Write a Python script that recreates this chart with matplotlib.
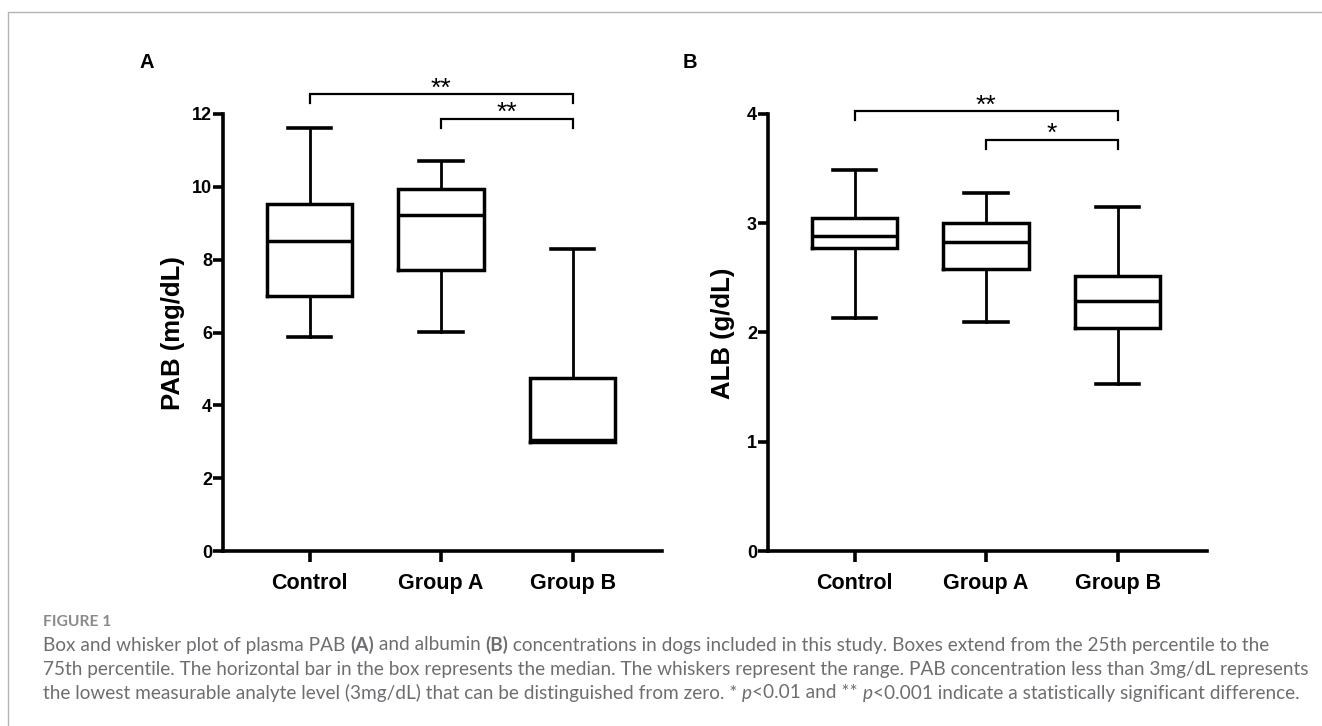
import matplotlib
matplotlib.use("Agg")
import matplotlib.pyplot as plt
from matplotlib.lines import Line2D
from matplotlib.transforms import IdentityTransform

groups = ["Control", "Group A", "Group B"]

# panel A: PAB (mg/dL)
pab_min = [5.88, 6.02, 3.00]
pab_q1 = [7.01, 7.72, 3.00]
pab_med = [8.52, 9.23, 3.05]
pab_q3 = [9.53, 9.94, 4.75]
pab_max = [11.62, 10.71, 8.30]

# panel B: ALB (g/dL)
alb_min = [2.13, 2.10, 1.53]
alb_q1 = [2.77, 2.58, 2.04]
alb_med = [2.88, 2.83, 2.29]
alb_q3 = [3.05, 3.00, 2.52]
alb_max = [3.49, 3.28, 3.15]

pab_sig = [(0, 2, "**"), (1, 2, "**")]
alb_sig = [(0, 2, "**"), (1, 2, "*")]

W, H = 1322, 726
fig = plt.figure(figsize=(W / 100, H / 100), dpi=100)
FONT = "Liberation Sans"


def make_stats(lo, q1, med, q3, hi):
    return [dict(whislo=a, q1=b, med=c, q3=d, whishi=e, fliers=[])
            for a, b, c, d, e in zip(lo, q1, med, q3, hi)]


def draw_panel(left, stats, ymax, yticks, ylabel, label_x, sig, br_y, letter, letter_x):
    ax = fig.add_axes([left / W, 1 - 551 / H, 439 / W, (551 - 114) / H])
    ax.bxp(stats, positions=range(3), widths=0.65, capwidths=0.33,
           showfliers=False, manage_ticks=False,
           boxprops=dict(color="k", lw=2.5, solid_joinstyle="miter"),
           medianprops=dict(color="k", lw=2.5),
           whiskerprops=dict(color="k", lw=2.0),
           capprops=dict(color="k", lw=2.6))
    ax.set_xlim(-0.66, 2.68)
    ax.set_ylim(0, ymax)
    for s in ["top", "right"]:
        ax.spines[s].set_visible(False)
    for s in ["left", "bottom"]:
        ax.spines[s].set_linewidth(2.6)
    ax.set_xticks(range(3))
    ax.set_xticklabels(groups, fontsize=15.5, fontweight="bold", family=FONT)
    ax.set_yticks(yticks)
    ax.set_yticklabels([str(t) for t in yticks], fontsize=13, fontweight="bold", family=FONT)
    ax.tick_params(axis="x", length=8, width=2.6, pad=8)
    ax.tick_params(axis="y", length=7, width=2.6, pad=1)
    fig.text(label_x / W, 1 - 333 / H, ylabel, rotation=90, ha="center", va="center",
             fontsize=18.5, fontweight="bold", family=FONT)
    fig.text(letter_x / W, 1 - 62 / H, letter, ha="center", va="center",
             fontsize=14.5, fontweight="bold", family=FONT)
    drop = 0.0205 * ymax
    for (i, j, star), y in zip(sig, br_y):
        ax.plot([i, i, j, j], [y - drop, y, y, y - drop], color="k", lw=1.6,
                clip_on=False, solid_joinstyle="miter")
        ax.annotate(star, xy=((i + j) / 2, y), xytext=(0, -1), textcoords="offset points",
                    ha="center", va="baseline", fontsize=19, family=FONT,
                    annotation_clip=False)
    return ax


draw_panel(223, make_stats(pab_min, pab_q1, pab_med, pab_q3, pab_max), 12,
           [0, 2, 4, 6, 8, 10, 12], "PAB (mg/dL)", 173, pab_sig, [12.55, 11.87], "A", 147)
draw_panel(768, make_stats(alb_min, alb_q1, alb_med, alb_q3, alb_max), 4,
           [0, 1, 2, 3, 4], "ALB (g/dL)", 723, alb_sig, [4.027, 3.763], "B", 690)

# frame lines (top and left)
fig.add_artist(Line2D([8, 8, W], [0, H - 12, H - 12], transform=IdentityTransform(),
                      color="#b4b4b4", lw=1.0))

# caption
renderer = fig.canvas.get_renderer()
CAP = "Lato"
GREY = "#6d6e71"


def text_width(s, size, weight, style):
    t1 = fig.text(0, 0, "|" + s + "|", fontsize=size, fontweight=weight, fontstyle=style, family=CAP)
    t2 = fig.text(0, 0, "||", fontsize=size, fontweight=weight, fontstyle=style, family=CAP)
    w = t1.get_window_extent(renderer).width - t2.get_window_extent(renderer).width
    t1.remove()
    t2.remove()
    return w


def rich_line(x, y, parts, size):
    for s, weight, style in parts:
        fig.text(x, H - y, s, transform=IdentityTransform(), fontsize=size, fontweight=weight,
                 fontstyle=style, family=CAP, color=GREY, ha="left", va="center")
        x += text_width(s, size, weight, style)


N = ("normal", "normal")
line1 = [("Box and whisker plot of plasma PAB ", *N), ("(A)", "bold", "normal"),
         (" and albumin ", *N), ("(B)", "bold", "normal"),
         (" concentrations in dogs included in this study. Boxes extend from the 25th percentile to the", *N)]
line2 = [("75th percentile. The horizontal bar in the box represents the median. The whiskers represent the range. PAB concentration less than 3mg/dL represents", *N)]
line3 = [("the lowest measurable analyte level (3mg/dL) that can be distinguished from zero. * ", *N),
         ("p", "normal", "italic"), ("<0.01 and ** ", *N), ("p", "normal", "italic"),
         ("<0.001 indicate a statistically significant difference.", *N)]

w10 = text_width(line2[0][0], 10, "normal", "normal")
cap_size = 10 * (1315 - 43) / w10

fig.text(43, H - 622, "FIGURE 1", transform=IdentityTransform(), fontsize=cap_size * 0.82,
         fontweight="bold", family=CAP, color="#8a8a8a", ha="left", va="center")
rich_line(43, 645, line1, cap_size)
rich_line(43, 669, line2, cap_size)
rich_line(43, 693, line3, cap_size)

fig.savefig("out.png", dpi=100)
